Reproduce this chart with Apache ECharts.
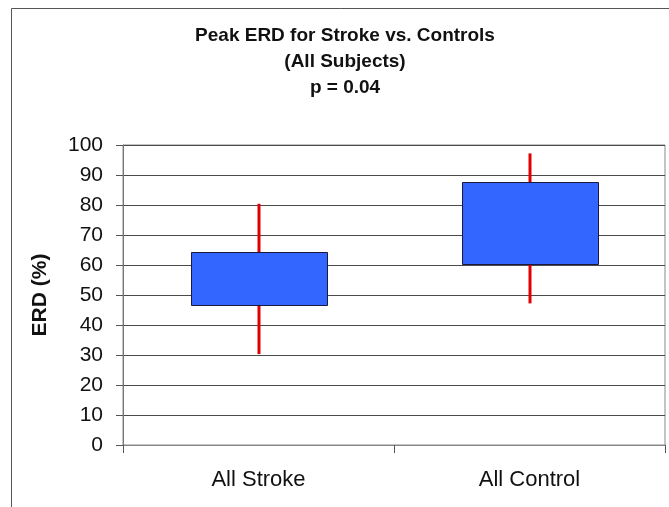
<!DOCTYPE html>
<html>
<head>
<meta charset="utf-8">
<script src="https://cdn.jsdelivr.net/npm/echarts@6/dist/echarts.min.js"></script>
<style>html,body{margin:0;padding:0;background:#fff;}#c{width:669px;height:507px;}</style>
</head>
<body>
<div id="c"></div>
<script>
var categories = ['All Stroke', 'All Control'];
var whiskerLow = [30.3, 47.2];
var boxLow = [46.6, 60.3];
var boxHigh = [64.4, 87.6];
var whiskerHigh = [80.4, 97.2];
var yTicks = [0, 10, 20, 30, 40, 50, 60, 70, 80, 90, 100];

var data = categories.map(function (c, i) {
  return [i, whiskerLow[i], boxLow[i], boxHigh[i], whiskerHigh[i]];
});

var chart = echarts.init(document.getElementById('c'), null, {renderer: 'canvas'});
chart.setOption({
  animation: false,
  backgroundColor: '#fff',
  title: {
    text: 'Peak ERD for Stroke vs. Controls\n(All Subjects)\np = 0.04',
    left: 340,
    top: 18,
    textAlign: 'center',
    textStyle: {
      fontFamily: 'Liberation Sans, Arial, sans-serif',
      fontSize: 19,
      fontWeight: 'bold',
      color: '#111',
      lineHeight: 26
    }
  },
  graphic: [{
    type: 'rect',
    shape: {x: 11.5, y: 8.5, width: 700, height: 600},
    style: {fill: 'none', stroke: '#555', lineWidth: 1},
    silent: true,
    z: -1
  }],
  grid: {
    left: 123, right: 4, top: 145, bottom: 62,
    show: true, borderColor: '#888', borderWidth: 1, backgroundColor: 'transparent'
  },
  xAxis: {
    type: 'category',
    data: categories,
    boundaryGap: true,
    axisLine: {show: true, lineStyle: {color: '#888', width: 1}},
    axisTick: {show: true, length: 8, inside: false, lineStyle: {color: '#555'}},
    axisLabel: {
      margin: 24,
      fontFamily: 'Liberation Sans, Arial, sans-serif',
      fontSize: 22,
      color: '#111'
    },
    splitLine: {show: false}
  },
  yAxis: {
    type: 'value',
    min: yTicks[0],
    max: yTicks[yTicks.length - 1],
    interval: 10,
    name: 'ERD (%)',
    nameLocation: 'middle',
    nameGap: 72,
    nameTextStyle: {
      fontFamily: 'Liberation Sans, Arial, sans-serif',
      fontSize: 21,
      fontWeight: 'bold',
      color: '#111'
    },
    axisLine: {show: true, lineStyle: {color: '#777', width: 1}},
    axisTick: {show: true, length: 7, inside: false, lineStyle: {color: '#555'}},
    axisLabel: {
      margin: 20,
      fontFamily: 'Liberation Sans, Arial, sans-serif',
      fontSize: 21,
      color: '#111'
    },
    splitLine: {show: true, lineStyle: {color: '#4a4a4a', width: 1}}
  },
  series: [{
    type: 'custom',
    data: data,
    encode: {x: 0, y: [1, 2, 3, 4]},
    renderItem: function (params, api) {
      var idx = api.value(0);
      var pLow = api.coord([idx, api.value(1)]);
      var pQ1 = api.coord([idx, api.value(2)]);
      var pQ3 = api.coord([idx, api.value(3)]);
      var pHigh = api.coord([idx, api.value(4)]);
      var band = api.size([1, 0])[0];
      var w = band * 0.5;
      var x = pQ1[0];
      return {
        type: 'group',
        children: [{
          type: 'line',
          shape: {x1: x + 0.5, y1: pLow[1], x2: x + 0.5, y2: pHigh[1]},
          style: {stroke: '#e00000', lineWidth: 3}
        }, {
          type: 'rect',
          shape: {x: Math.round(x - w / 2) + 0.5, y: Math.round(pQ3[1]) + 0.5, width: Math.round(w), height: Math.round(pQ1[1] - pQ3[1])},
          style: {fill: '#3366ff', stroke: '#1a1a40', lineWidth: 1}
        }]
      };
    }
  }]
});
</script>
</body>
</html>
